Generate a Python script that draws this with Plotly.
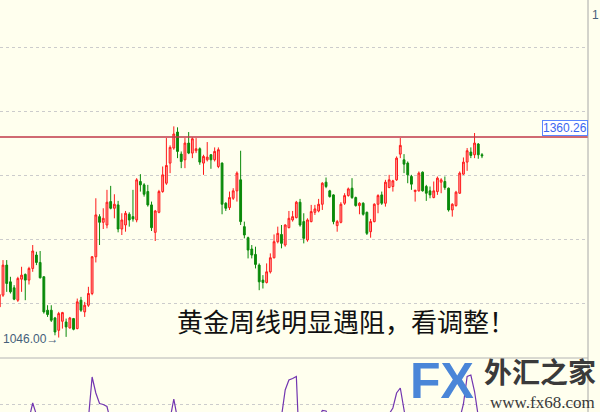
import plotly.graph_objects as go

# ---- data ----
opens = [1094.0, 1112.4, 1159.5, 1133.3, 1123.9, 1104.5, 1137.5, 1144.9, 1136.0, 1154.3,
         1175.3, 1163.7, 1141.2, 1088.8, 1088.8, 1076.7, 1057.3, 1071.5, 1070.4, 1061.0,
         1075.7, 1060.0, 1104.5, 1086.2, 1096.6, 1115.0, 1172.6, 1235.5, 1226.6, 1222.4,
         1259.1, 1248.6, 1253.9, 1216.1, 1222.4, 1239.2, 1235.5, 1230.3, 1290.6, 1285.3,
         1274.8, 1253.9, 1210.9, 1242.3, 1274.8, 1287.9, 1319.4, 1343.0, 1368.1, 1333.5,
         1324.6, 1350.8, 1335.1, 1338.8, 1341.9, 1319.4, 1324.6, 1332.5, 1324.6, 1314.1,
         1319.4, 1256.5, 1249.7, 1264.3, 1275.9, 1293.2, 1219.8, 1202.5, 1184.7, 1176.3,
         1159.5, 1136.0, 1132.3, 1149.0, 1171.0, 1196.2, 1207.6, 1191.0, 1218.2, 1230.3,
         1233.9, 1258.1, 1227.7, 1198.9, 1227.7, 1242.3, 1244.4, 1254.9, 1289.5, 1275.9,
         1269.6, 1221.4, 1226.6, 1256.5, 1268.5, 1280.1, 1265.4, 1252.8, 1256.5, 1242.3,
         1211.9, 1227.7, 1254.9, 1269.6, 1256.5, 1281.1, 1282.7, 1293.2, 1333.5, 1324.6,
         1319.4, 1298.4, 1274.8, 1275.9, 1305.2, 1282.7, 1275.9, 1265.4, 1274.8, 1289.5,
         1290.6, 1280.1, 1246.0, 1252.8, 1272.2, 1302.1, 1321.0, 1336.7, 1332.5, 1349.3,
         1332.5]
highs = [1115.0, 1167.4, 1167.4, 1141.2, 1128.1, 1141.2, 1156.9, 1146.4, 1156.9, 1191.0,
         1180.5, 1181.6, 1142.0, 1096.6, 1096.6, 1078.3, 1086.2, 1086.2, 1075.7, 1078.3,
         1076.7, 1107.1, 1109.7, 1101.9, 1125.5, 1173.7, 1264.3, 1239.2, 1248.6, 1277.5,
         1283.7, 1270.6, 1260.2, 1240.8, 1244.4, 1242.3, 1277.5, 1295.8, 1302.1, 1287.9,
         1285.3, 1259.1, 1246.0, 1277.5, 1314.1, 1358.7, 1347.2, 1377.0, 1375.5, 1337.7,
         1358.7, 1368.1, 1359.7, 1358.7, 1344.0, 1332.5, 1352.4, 1333.5, 1344.0, 1344.0,
         1320.5, 1258.1, 1274.8, 1280.1, 1306.3, 1338.8, 1227.7, 1204.1, 1191.0, 1188.4,
         1162.2, 1143.8, 1162.2, 1177.9, 1207.6, 1219.8, 1222.4, 1223.5, 1244.4, 1244.4,
         1260.2, 1263.3, 1240.8, 1232.9, 1253.9, 1253.9, 1263.3, 1289.5, 1296.8, 1277.5,
         1270.6, 1230.3, 1258.1, 1272.2, 1281.1, 1295.8, 1266.9, 1258.1, 1258.1, 1243.4,
         1231.9, 1256.5, 1270.6, 1274.8, 1293.2, 1301.0, 1293.2, 1329.9, 1358.7, 1333.5,
         1322.0, 1301.0, 1277.5, 1306.3, 1306.3, 1285.3, 1282.7, 1290.6, 1298.4, 1295.8,
         1298.4, 1281.1, 1256.5, 1275.9, 1306.3, 1328.3, 1343.0, 1344.0, 1366.6, 1350.8,
         1335.1]
lows = [1092.5, 1109.7, 1117.6, 1115.0, 1104.5, 1101.9, 1117.6, 1104.5, 1129.1, 1149.0,
        1159.5, 1138.6, 1083.5, 1078.3, 1070.4, 1049.5, 1046.0, 1060.0, 1047.0, 1060.0,
        1057.3, 1058.9, 1086.2, 1078.3, 1094.0, 1112.4, 1163.7, 1191.0, 1216.1, 1217.2,
        1247.0, 1232.9, 1210.9, 1206.7, 1211.9, 1219.8, 1227.7, 1226.6, 1274.8, 1266.9,
        1251.2, 1213.0, 1197.3, 1240.8, 1273.0, 1285.3, 1303.7, 1340.4, 1327.2, 1311.5,
        1311.5, 1333.5, 1327.2, 1335.1, 1316.8, 1301.0, 1322.0, 1310.5, 1322.0, 1311.5,
        1239.2, 1244.4, 1246.0, 1261.7, 1259.1, 1222.4, 1201.5, 1170.0, 1170.0, 1154.3,
        1120.2, 1122.8, 1130.7, 1146.4, 1170.0, 1193.6, 1185.8, 1188.4, 1217.2, 1227.7,
        1232.9, 1219.8, 1193.6, 1196.2, 1226.6, 1238.2, 1242.3, 1246.0, 1280.1, 1265.4,
        1223.5, 1211.9, 1225.0, 1253.9, 1266.9, 1263.3, 1251.2, 1239.2, 1237.1, 1206.7,
        1202.5, 1226.6, 1240.8, 1253.9, 1251.2, 1280.1, 1274.8, 1291.6, 1327.2, 1303.7,
        1287.9, 1277.5, 1259.1, 1274.8, 1274.8, 1260.2, 1264.3, 1264.3, 1269.6, 1272.2,
        1277.5, 1243.4, 1235.5, 1251.2, 1271.0, 1301.0, 1307.3, 1327.2, 1327.2, 1326.2,
        1327.2]
closes = [1113.4, 1159.5, 1130.7, 1117.6, 1106.1, 1138.6, 1143.8, 1136.0, 1154.3, 1181.6,
          1163.7, 1139.6, 1086.2, 1082.0, 1073.1, 1054.7, 1083.5, 1085.1, 1062.6, 1076.7,
          1058.9, 1101.9, 1088.8, 1096.6, 1115.0, 1172.6, 1238.2, 1226.6, 1232.9, 1258.1,
          1248.6, 1254.9, 1216.1, 1230.3, 1240.8, 1230.3, 1231.9, 1293.2, 1285.3, 1270.6,
          1253.9, 1218.2, 1244.4, 1274.8, 1301.0, 1315.7, 1344.0, 1365.0, 1337.7, 1322.0,
          1350.8, 1335.1, 1357.6, 1341.9, 1321.0, 1329.9, 1328.8, 1324.6, 1337.7, 1340.4,
          1254.9, 1248.6, 1265.4, 1275.9, 1303.7, 1227.7, 1206.7, 1183.1, 1175.3, 1160.6,
          1133.3, 1132.3, 1149.0, 1171.0, 1196.2, 1209.3, 1193.6, 1222.4, 1232.9, 1235.5,
          1258.1, 1222.4, 1201.5, 1230.3, 1243.4, 1247.6, 1254.9, 1287.9, 1282.7, 1266.9,
          1227.7, 1227.7, 1254.9, 1268.5, 1279.0, 1265.4, 1252.8, 1256.5, 1239.2, 1209.3,
          1227.7, 1254.9, 1268.5, 1256.5, 1289.5, 1293.2, 1291.6, 1327.2, 1347.2, 1317.8,
          1301.0, 1286.4, 1276.9, 1303.7, 1275.9, 1272.2, 1269.6, 1275.9, 1295.8, 1293.2,
          1281.1, 1246.0, 1254.9, 1273.8, 1303.7, 1321.0, 1338.8, 1331.4, 1350.8, 1332.5,
          1330.9]
indicator = [-40, -45, -38, -42, -50, -35, -30, -30,
             -30, 2, -30,
             -45, -60, -70, -75, -80, -65, -55, -60, -50, -45, -40, -35, -30,
             -30, 54, 22, 1, -1, -5, -35,
             -40, -50, -45, -40, -38, -35, -30, -35, -40, -50, -45, -35, -30, -30, -30,
             -30, 10, -30,
             -40, -45, -50, -45, -40, -45, -50, -55, -50, -45, -40, -60, -70, -65, -55,
             -50, -45, -60, -80, -90, -85, -75, -60, -50, -40, -35, -30,
             -25, 28, 48, 51, 55, -120,
             -90, -60, -45, -35,
             -30, -13, -14, -30,
             -45, -55, -45, -40, -35, -40, -50, -55, -60, -65, -50, -40, -35, -30, -25,
             -20, -8, 22, 32, -40,
             -55, -60, -55, -50, -45, -50, -55, -50, -45, -50, -55, -60, -50, -40,
             -30, 0, 55, 58, 25, -25, -40]
weeks = list(range(len(closes)))
price_grid = [1100, 1200, 1300, 1400, 1500]
resistance = 1360.26
low_label = 1046.00
title_text = "黄金周线明显遇阻，看调整！"

W, H = 600, 412
PLOT_RIGHT = 588 / W
SPLIT = 54 / H

fig = go.Figure()
fig.add_trace(go.Candlestick(
    x=weeks, open=opens, high=highs, low=lows, close=closes,
    increasing=dict(line=dict(color="#FF1A1A", width=1), fillcolor="#FF9C9C"),
    decreasing=dict(line=dict(color="#0A8A0A", width=1), fillcolor="#0A8A0A"),
    whiskerwidth=0, hoverinfo="skip", showlegend=False,
    xaxis="x", yaxis="y"))
fig.add_trace(go.Scatter(
    x=weeks, y=indicator, mode="lines",
    line=dict(color="#7236B0", width=1.2),
    hoverinfo="skip", showlegend=False, xaxis="x", yaxis="y2"))

# resistance line
fig.add_shape(type="line", xref="paper", yref="y", x0=0, x1=PLOT_RIGHT,
              y0=resistance, y1=resistance, line=dict(color="#C03848", width=1.5))
# right axis line
fig.add_shape(type="line", xref="paper", yref="paper", x0=PLOT_RIGHT, x1=PLOT_RIGHT,
              y0=0, y1=1, line=dict(color="#A8A8A8", width=1))
# panel separator
fig.add_shape(type="line", xref="paper", yref="paper", x0=0, x1=PLOT_RIGHT,
              y0=SPLIT, y1=SPLIT, line=dict(color="#B4B4B4", width=1))

annotations = [
    dict(xref="paper", yref="y", x=PLOT_RIGHT, y=resistance, xanchor="right", yanchor="bottom",
         yshift=1, text=f"{resistance:.2f}", showarrow=False,
         font=dict(family="Liberation Sans", size=12, color="#3A66F0"),
         bgcolor="#FFFFFF", bordercolor="#5A86FF", borderwidth=1, borderpad=0),
    dict(xref="paper", yref="y", x=1 / W, y=low_label, xanchor="left", yanchor="middle",
         yshift=-1, text=f"{low_label:.2f}→", showarrow=False,
         font=dict(family="Liberation Sans", size=12, color="#45607A")),
    dict(xref="paper", yref="paper", x=590 / W, y=1 - 15 / H, xanchor="left", yanchor="middle",
         text="1", showarrow=False,
         font=dict(family="Liberation Sans", size=12, color="#45607A")),
    dict(xref="paper", yref="paper", x=346 / W, y=1 - 320 / H, xanchor="center", yanchor="middle",
         text=title_text, showarrow=False,
         font=dict(family="Noto Sans CJK SC", size=26, color="#111111")),
    # watermark logo
    dict(xref="paper", yref="paper", x=408 / W, y=1 - 381 / H, xanchor="left", yanchor="middle",
         text="<b>FX</b>", showarrow=False,
         font=dict(family="Liberation Sans", size=50, color="#4A86D8")),
    dict(xref="paper", yref="paper", x=598 / W, y=1 - 371 / H, xanchor="right", yanchor="middle",
         text="<b>外汇之家</b>", showarrow=False,
         font=dict(family="Noto Sans CJK SC", size=28, color="#3A3A3A")),
    dict(xref="paper", yref="paper", x=597 / W, y=1 - 402 / H, xanchor="right", yanchor="middle",
         text="www.fx68.com", showarrow=False,
         font=dict(family="Liberation Serif", size=17, color="#3A3A3A")),
]

fig.update_layout(
    width=W, height=H,
    margin=dict(l=0, r=0, t=0, b=0),
    paper_bgcolor="#FFFFEE", plot_bgcolor="#FFFFEE",
    showlegend=False,
    xaxis=dict(domain=[0, PLOT_RIGHT], range=[0.192, 158.55], showgrid=False,
               showticklabels=False, zeroline=False, showline=False, ticks="",
               rangeslider=dict(visible=False), anchor="y2", fixedrange=True),
    yaxis=dict(domain=[SPLIT, 1], range=[1013.9, 1575.1], tickvals=price_grid,
               showticklabels=False, showgrid=True, gridcolor="#CCCCCC", griddash="dot",
               gridwidth=1, zeroline=False, showline=False, ticks="", fixedrange=True),
    yaxis2=dict(domain=[0, SPLIT], range=[-16, 92], tickvals=[0],
                showticklabels=False, showgrid=True, gridcolor="#CCCCCC", griddash="dot",
                gridwidth=1, zeroline=False, showline=False, ticks="", fixedrange=True),
    annotations=annotations,
)

fig.write_html("out.html", config=dict(displayModeBar=False, staticPlot=True),
               post_script="document.body.style.margin='0';document.body.style.background='#FFFFEE';")
